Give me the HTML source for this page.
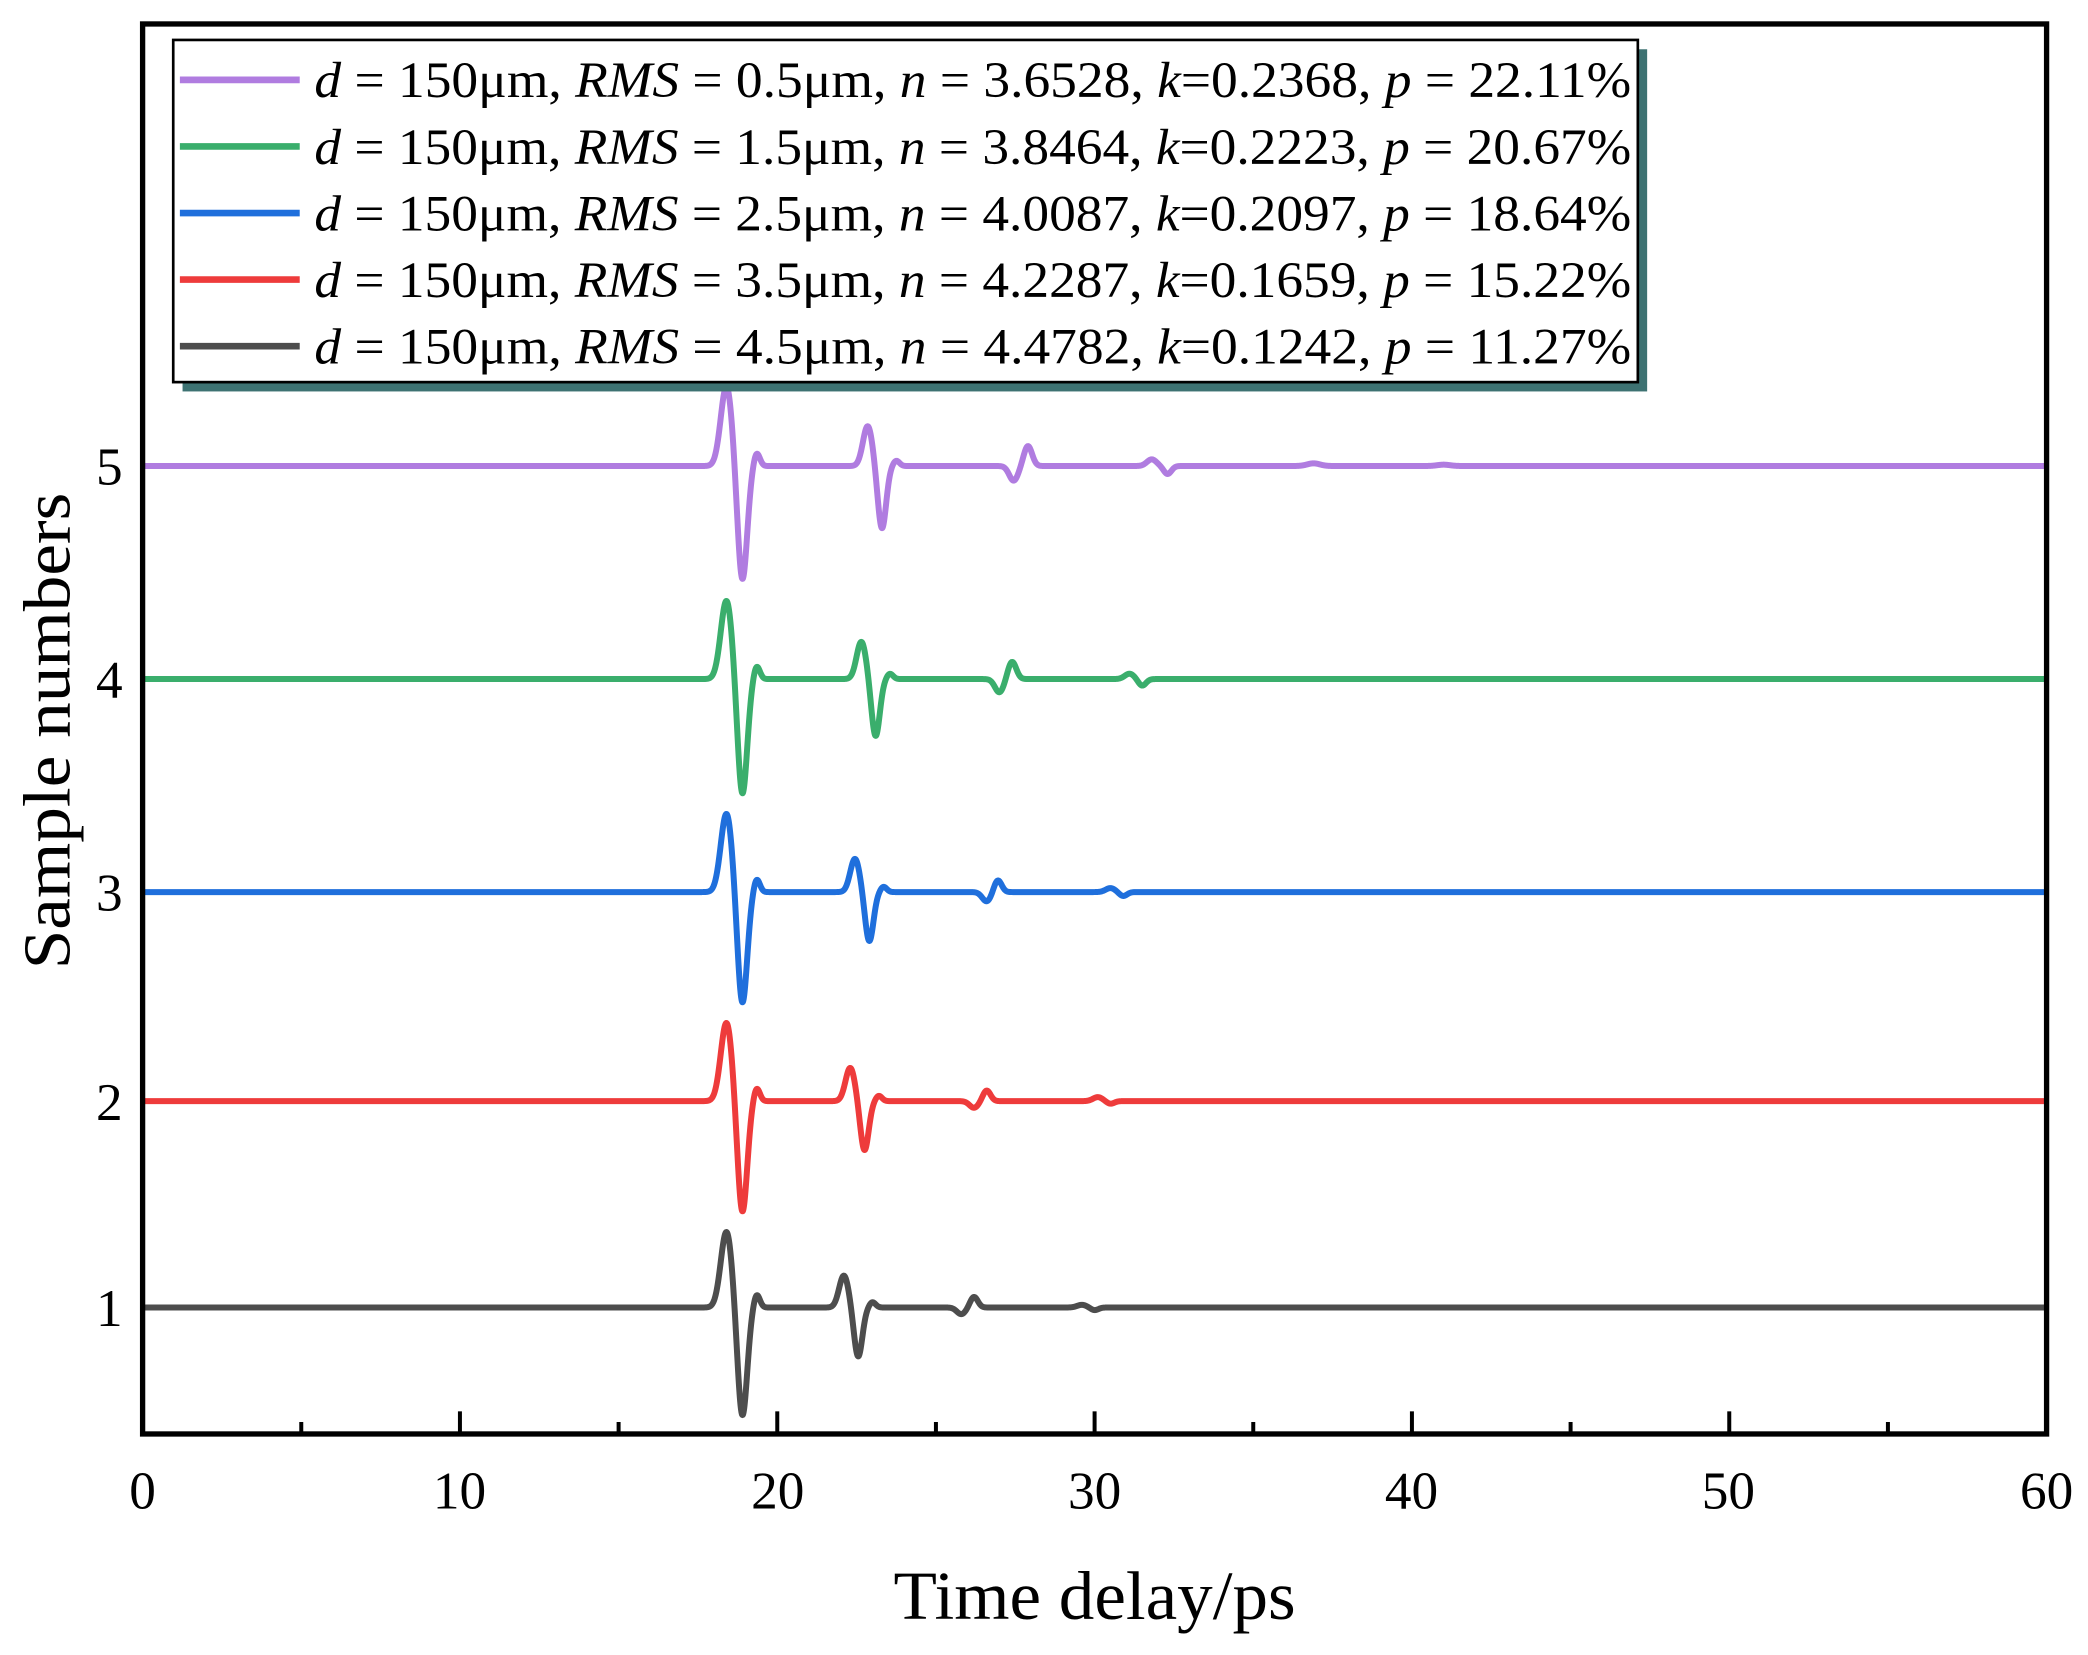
<!DOCTYPE html>
<html><head><meta charset="utf-8"><style>
html,body{margin:0;padding:0;background:#fff}
svg{display:block}
text{font-family:"Liberation Serif",serif;fill:#000}
</style></head><body>
<svg id="s" width="2088" height="1655" viewBox="0 0 1568 1243" xmlns="http://www.w3.org/2000/svg">
<rect x="0" y="0" width="1568" height="1243" fill="#fff"/>
<g id="series"></g>
<rect x="107" y="18" width="1430" height="1059" fill="none" stroke="#000" stroke-width="4"/>
<g stroke="#000" stroke-width="3" id="ticks"></g>
<g font-size="40" text-anchor="middle">
<text x="107" y="1133">0</text><text x="345" y="1133">10</text><text x="584" y="1133">20</text><text x="822" y="1133">30</text><text x="1060" y="1133">40</text><text x="1298" y="1133">50</text><text x="1537" y="1133">60</text>
</g>
<g font-size="40" text-anchor="end">
<text x="92" y="364">5</text><text x="92" y="524">4</text><text x="92" y="684">3</text><text x="92" y="841">2</text><text x="92" y="996">1</text>
</g>
<text x="671" y="1216" font-size="52" textLength="302" lengthAdjust="spacingAndGlyphs">Time delay/ps</text>
<text transform="translate(52,728) rotate(-90)" font-size="50" textLength="358" lengthAdjust="spacingAndGlyphs">Sample numbers</text>
<rect x="137" y="37" width="1100" height="257" fill="#3d7272"/>
<rect x="130" y="30" width="1100" height="257" fill="#fff" stroke="#000" stroke-width="2"/>
<g stroke-width="5">
<line x1="135" y1="60" x2="225" y2="60" stroke="#b07ce0"/>
<line x1="135" y1="110" x2="225" y2="110" stroke="#3aae6c"/>
<line x1="135" y1="160" x2="225" y2="160" stroke="#1f6fdc"/>
<line x1="135" y1="210" x2="225" y2="210" stroke="#ee3b3b"/>
<line x1="135" y1="260" x2="225" y2="260" stroke="#4d4d4d"/>
</g>
<g font-size="38">
<text x="236" y="73" textLength="989" lengthAdjust="spacingAndGlyphs"><tspan font-style="italic">d</tspan> = 150μm, <tspan font-style="italic">RMS</tspan> = 0.5μm, <tspan font-style="italic">n</tspan> = 3.6528, <tspan font-style="italic">k</tspan>=0.2368, <tspan font-style="italic">p</tspan> = 22.11%</text>
<text x="236" y="123" textLength="989" lengthAdjust="spacingAndGlyphs"><tspan font-style="italic">d</tspan> = 150μm, <tspan font-style="italic">RMS</tspan> = 1.5μm, <tspan font-style="italic">n</tspan> = 3.8464, <tspan font-style="italic">k</tspan>=0.2223, <tspan font-style="italic">p</tspan> = 20.67%</text>
<text x="236" y="173" textLength="989" lengthAdjust="spacingAndGlyphs"><tspan font-style="italic">d</tspan> = 150μm, <tspan font-style="italic">RMS</tspan> = 2.5μm, <tspan font-style="italic">n</tspan> = 4.0087, <tspan font-style="italic">k</tspan>=0.2097, <tspan font-style="italic">p</tspan> = 18.64%</text>
<text x="236" y="223" textLength="989" lengthAdjust="spacingAndGlyphs"><tspan font-style="italic">d</tspan> = 150μm, <tspan font-style="italic">RMS</tspan> = 3.5μm, <tspan font-style="italic">n</tspan> = 4.2287, <tspan font-style="italic">k</tspan>=0.1659, <tspan font-style="italic">p</tspan> = 15.22%</text>
<text x="236" y="273" textLength="989" lengthAdjust="spacingAndGlyphs"><tspan font-style="italic">d</tspan> = 150μm, <tspan font-style="italic">RMS</tspan> = 4.5μm, <tspan font-style="italic">n</tspan> = 4.4782, <tspan font-style="italic">k</tspan>=0.1242, <tspan font-style="italic">p</tspan> = 11.27%</text>
</g>
</svg>
<script>
(function(){
var NS="http://www.w3.org/2000/svg";
function X(t){return 107+t*1430/60;}
var t=document.getElementById("ticks");
for(var v=5;v<60;v+=5){var l=document.createElementNS(NS,"line");var x=X(v);
l.setAttribute("x1",x);l.setAttribute("x2",x);l.setAttribute("y1",1077);l.setAttribute("y2",v%10?1068:1060);t.appendChild(l);}
var S=[
{c:"#b07ce0",b:350,g:[[60,18.4,.18],[-86,18.9,.15],[10,19.35,.1],[30,22.85,.15],[-47,23.3,.13],[4,23.75,.1],[-11,27.45,.14],[15,27.9,.13],[5,31.8,.15],[-6,32.3,.12],[2,36.9,.2],[1,41,.2]]},
{c:"#3aae6c",b:510,g:[[59,18.4,.18],[-87,18.9,.15],[10,19.35,.1],[28,22.65,.15],[-43,23.1,.13],[4,23.55,.1],[-10,27.0,.14],[13,27.4,.13],[4,31.1,.15],[-5,31.5,.12]]},
{c:"#1f6fdc",b:670,g:[[59,18.4,.18],[-84,18.9,.15],[10,19.35,.1],[25,22.45,.15],[-37,22.9,.13],[4,23.35,.1],[-7,26.6,.14],[9,26.95,.12],[3,30.5,.15],[-3,30.9,.12]]},
{c:"#ee3b3b",b:827,g:[[59,18.4,.18],[-84,18.9,.15],[10,19.35,.1],[25,22.3,.15],[-37,22.75,.13],[4,23.2,.1],[-5,26.2,.14],[8,26.6,.12],[3,30.1,.15],[-2,30.5,.12]]},
{c:"#4d4d4d",b:982,g:[[57,18.4,.18],[-82,18.9,.15],[10,19.35,.1],[24,22.1,.15],[-37,22.55,.13],[4,23.0,.1],[-5,25.8,.14],[8,26.2,.12],[2,29.6,.15],[-2,30.0,.12]]}
];
var G=document.getElementById("series");
S.forEach(function(s){var d="";
for(var i=0;i<=6000;i++){var tt=i*0.01;var y=0;
s.g.forEach(function(g){var z=(tt-g[1])/g[2];y+=g[0]*Math.exp(-0.5*z*z);});
d+=(i?"L":"M")+X(tt).toFixed(2)+","+(s.b-y).toFixed(2);}
var p=document.createElementNS(NS,"path");p.setAttribute("d",d);p.setAttribute("fill","none");
p.setAttribute("stroke",s.c);p.setAttribute("stroke-width","4.5");p.setAttribute("stroke-linejoin","round");G.appendChild(p);});
})();
</script>
</body></html>
